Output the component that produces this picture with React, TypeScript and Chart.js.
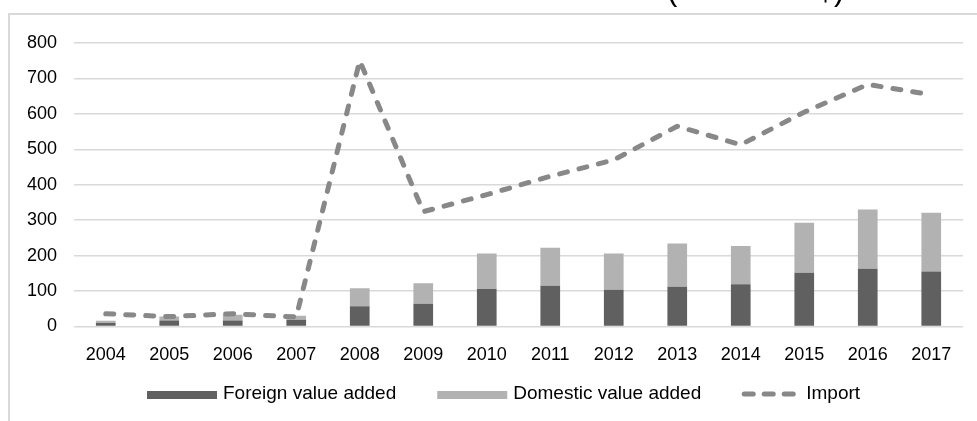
import React, { useEffect, useRef } from "react";
import { Chart, registerables } from "chart.js";

Chart.register(...registerables);

// Years on the category axis
const years = [
  "2004", "2005", "2006", "2007", "2008", "2009", "2010",
  "2011", "2012", "2013", "2014", "2015", "2016", "2017",
];

// Stacked bar components
const foreignValueAdded = [10, 17, 17, 19, 57, 64, 106, 115, 104, 112, 119, 152, 163, 155];
const domesticValueAdded = [6, 11, 16, 11, 51, 58, 100, 107, 102, 122, 108, 141, 167, 166];

// Dashed line series
const importValues = [36, 28, 36, 27, 750, 324, 372, 424, 470, 565, 513, 605, 683, 654];

// Value axis range
const yMin = 0;
const yMax = 800;
const yStep = 100;

const seriesLabels = ["Foreign value added", "Domestic value added", "Import"];
const titleText = "(million US$)";

const FONT = '"Liberation Sans", Arial, sans-serif';
const DARK = "#606060";
const LIGHT = "#b2b2b2";
const LINE = "#888888";
const GRID = "#d9d9d9";

// Draws the outer frame, the unit title (mostly above the canvas top) and the legend row.
const decorations = {
  id: "decorations",
  beforeDraw(chart: any) {
    const ctx = chart.ctx as CanvasRenderingContext2D;
    ctx.save();
    ctx.strokeStyle = GRID;
    ctx.lineWidth = 2;
    ctx.beginPath();
    ctx.moveTo(9, chart.height);
    ctx.lineTo(9, 14);
    ctx.lineTo(chart.width, 14);
    ctx.stroke();

    ctx.fillStyle = "#000";
    ctx.font = `31px ${FONT}`;
    ctx.textAlign = "left";
    ctx.textBaseline = "alphabetic";
    ctx.fillText(titleText, 667, -0.5);
    ctx.restore();
  },
  afterDraw(chart: any) {
    const ctx = chart.ctx as CanvasRenderingContext2D;
    const datasets = chart.data.datasets;
    const cy = 394;
    const boxW = 70;
    const boxH = 8;
    const textGap = 6;
    const itemGap = 41;
    ctx.save();
    ctx.font = `19px ${FONT}`;
    ctx.textBaseline = "middle";
    ctx.textAlign = "left";
    let x = 147;
    datasets.forEach((ds: any) => {
      if (ds.type === "line") {
        ctx.strokeStyle = ds.borderColor;
        ctx.lineWidth = 5;
        ctx.lineCap = "round";
        ctx.setLineDash([9, 11]);
        ctx.beginPath();
        ctx.moveTo(x + 2, cy);
        ctx.lineTo(x + 56, cy);
        ctx.stroke();
        ctx.setLineDash([]);
        x += 58;
      } else {
        ctx.fillStyle = ds.backgroundColor;
        ctx.fillRect(x, cy - boxH / 2 + 1, boxW, boxH);
        x += boxW;
      }
      x += textGap;
      ctx.fillStyle = "#000";
      ctx.fillText(ds.label, x, cy);
      x += ctx.measureText(ds.label).width + itemGap;
    });
    ctx.restore();
  },
};

export default function App() {
  const canvasRef = useRef<HTMLCanvasElement | null>(null);

  useEffect(() => {
    if (!canvasRef.current) return;
    const font = { family: FONT, size: 18 };
    const chart = new Chart(canvasRef.current, {
      type: "bar",
      data: {
        labels: years,
        datasets: [
          {
            type: "bar",
            label: seriesLabels[0],
            data: foreignValueAdded,
            backgroundColor: DARK,
            stack: "valueAdded",
            barPercentage: 0.31,
            categoryPercentage: 1,
            order: 2,
          },
          {
            type: "bar",
            label: seriesLabels[1],
            data: domesticValueAdded,
            backgroundColor: LIGHT,
            stack: "valueAdded",
            barPercentage: 0.31,
            categoryPercentage: 1,
            order: 2,
          },
          {
            type: "line",
            label: seriesLabels[2],
            data: importValues,
            borderColor: LINE,
            backgroundColor: LINE,
            borderWidth: 5,
            borderDash: [8, 12],
            borderCapStyle: "round",
            borderJoinStyle: "round",
            pointRadius: 0,
            tension: 0,
            fill: false,
            stack: "import",
            order: 1,
          },
        ],
      } as any,
      options: {
        animation: false,
        responsive: true,
        maintainAspectRatio: false,
        layout: { padding: { top: 43, right: 14, left: 0, bottom: 0 } },
        plugins: {
          legend: { display: false },
          tooltip: { enabled: false },
        },
        scales: {
          x: {
            stacked: true,
            grid: { display: false },
            border: { display: false },
            ticks: { color: "#000", font, padding: 10, maxRotation: 0 },
            afterFit: (s: any) => {
              s.height = 94.5;
            },
          },
          y: {
            stacked: true,
            min: yMin,
            max: yMax,
            ticks: { stepSize: yStep, color: "#000", font, padding: 17 },
            grid: { color: GRID, lineWidth: 1.5, drawTicks: false },
            border: { display: false },
            afterFit: (s: any) => {
              s.width = 74;
            },
          },
        },
      } as any,
      plugins: [decorations],
    });
    return () => chart.destroy();
  }, []);

  return (
    <div style={{ position: "absolute", left: 0, top: 0, width: 977, height: 421, background: "#fff" }}>
      <canvas ref={canvasRef} />
    </div>
  );
}
